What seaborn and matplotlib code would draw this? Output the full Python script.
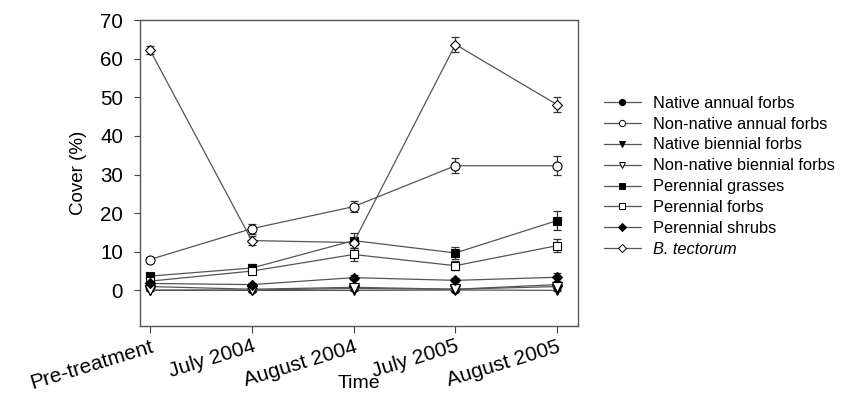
import matplotlib
matplotlib.use("Agg")
import matplotlib.pyplot as plt
from matplotlib.lines import Line2D
import numpy as np
import pandas as pd
import seaborn as sns

sns.set_theme(style="white")
plt.rcParams["font.family"] = ["Liberation Sans", "DejaVu Sans"]
plt.rcParams["text.color"] = "black"
plt.rcParams["axes.labelcolor"] = "black"
plt.rcParams["xtick.color"] = "black"
plt.rcParams["ytick.color"] = "black"

times = ["Pre-treatment", "July 2004", "August 2004", "July 2005", "August 2005"]

native_annual = [1.0, 0.3, 0.8, 0.3, 1.5]
native_annual_se = [0.3, 0.2, 0.3, 0.2, 0.4]
nonnative_annual = [8.0, 16.0, 21.7, 32.3, 32.3]
nonnative_annual_se = [0.7, 1.3, 1.5, 2.0, 2.5]
native_biennial = [0.0, 0.0, 0.0, 0.1, 0.0]
native_biennial_se = [0.1, 0.1, 0.1, 0.1, 0.2]
nonnative_biennial = [0.1, 0.1, 0.5, 0.3, 1.0]
nonnative_biennial_se = [0.2, 0.2, 0.3, 0.2, 0.4]
perennial_grasses = [3.7, 5.8, 12.9, 9.7, 18.1]
perennial_grasses_se = [0.8, 1.0, 2.0, 1.5, 2.4]
perennial_forbs = [2.4, 5.0, 9.3, 6.4, 11.6]
perennial_forbs_se = [0.5, 0.8, 1.6, 1.2, 1.6]
perennial_shrubs = [1.8, 1.5, 3.3, 2.6, 3.4]
perennial_shrubs_se = [0.5, 0.5, 0.7, 0.5, 1.0]
b_tectorum = [62.3, 12.9, 12.4, 63.7, 48.1]
b_tectorum_se = [1.0, 1.2, 1.5, 2.0, 2.0]

groups = [
    ("Native annual forbs", native_annual, native_annual_se, "o", "black"),
    ("Non-native annual forbs", nonnative_annual, nonnative_annual_se, "o", "white"),
    ("Native biennial forbs", native_biennial, native_biennial_se, "v", "black"),
    ("Non-native biennial forbs", nonnative_biennial, nonnative_biennial_se, "v", "white"),
    ("Perennial grasses", perennial_grasses, perennial_grasses_se, "s", "black"),
    ("Perennial forbs", perennial_forbs, perennial_forbs_se, "s", "white"),
    ("Perennial shrubs", perennial_shrubs, perennial_shrubs_se, "D", "black"),
    ("B. tectorum", b_tectorum, b_tectorum_se, "D", "white"),
]

rows = []
for name, vals, ses, _, _ in groups:
    for i, (v, s) in enumerate(zip(vals, ses)):
        rows.append({"group": name, "pos": i, "cover": v, "se": s})
df = pd.DataFrame(rows)

fig = plt.figure(figsize=(8.42, 3.96), dpi=100)
ax = fig.add_axes([0.166, 0.177, 0.520, 0.772])

line_color = "#555555"
marker_size = {"o": 6.5, "v": 6.5, "s": 6, "D": 5.5}

for name, vals, ses, mk, face in groups:
    sub = df[df["group"] == name]
    ax.errorbar(sub["pos"], sub["cover"], yerr=sub["se"], fmt="none",
                ecolor="#333333", elinewidth=0.9, capsize=3, capthick=0.9, zorder=2)
    sns.lineplot(data=sub, x="pos", y="cover", ax=ax, color=line_color,
                 linewidth=0.9, marker=mk, markersize=marker_size[mk],
                 markerfacecolor=face, markeredgecolor="black",
                 markeredgewidth=0.8, legend=False, zorder=3)

ax.set_xlim(-0.1, 4.2)
ax.set_ylim(-9.2, 70)
ax.tick_params(axis="y", length=4, width=0.8, direction="out", left=True,
               color="#444444", labelcolor="black", pad=8)
ax.tick_params(axis="x", length=5, width=0.8, direction="out", bottom=True,
               color="#444444", labelcolor="black", pad=3)
ax.set_yticks(range(0, 71, 10))
ax.set_yticklabels([str(v) for v in range(0, 71, 10)], fontsize=14.8)
ax.set_xticks(range(len(times)))
ax.set_xticklabels(times, fontsize=15)
for lbl in ax.get_xticklabels():
    lbl.set_rotation(17)
    lbl.set_horizontalalignment("right")
    lbl.set_rotation_mode("anchor")
for sp in ax.spines.values():
    sp.set_color("#555555")
    sp.set_linewidth(1.0)

ax.set_xlabel("Time", fontsize=14, color="black")
ax.xaxis.set_label_coords(0.5, -0.162)
ax.set_ylabel("Cover (%)", fontsize=13.5, color="black")
ax.yaxis.set_label_coords(-0.12, 0.5)

handles = []
for name, vals, ses, mk, face in groups:
    handles.append(Line2D([], [], color=line_color, linewidth=0.9, marker=mk,
                          markersize=4.5 if mk != "D" else 4, markerfacecolor=face,
                          markeredgecolor="black", markeredgewidth=0.7))
labels = [g[0] for g in groups]
leg = fig.legend(handles, labels, loc="upper left", bbox_to_anchor=(0.709, 0.775),
                 frameon=False, fontsize=11.8, handlelength=2.3,
                 handletextpad=0.7, labelspacing=0.36, borderaxespad=0)
for t in leg.get_texts():
    t.set_color("black")
leg.get_texts()[-1].set_fontstyle("italic")

fig.savefig("out.png", dpi=100, facecolor="white")
